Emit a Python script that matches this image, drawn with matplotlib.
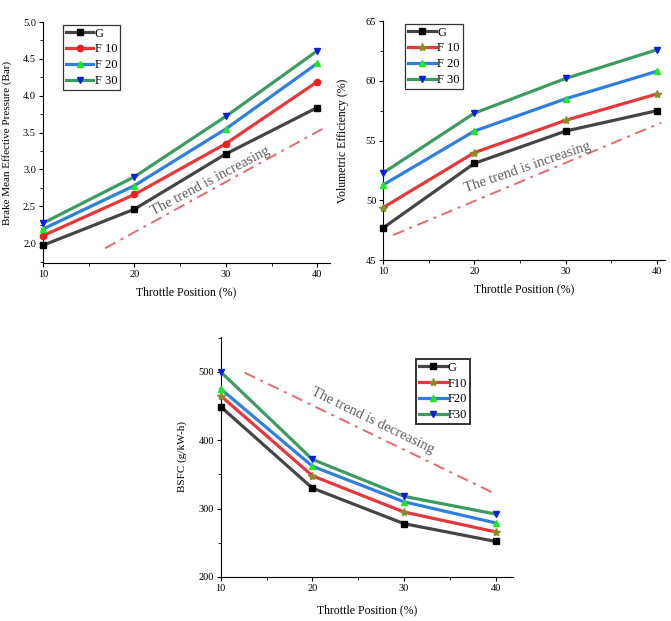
import matplotlib
matplotlib.use("Agg")
import matplotlib.pyplot as plt
from matplotlib.ticker import MultipleLocator

plt.rcParams['font.family'] = ['Liberation Serif', 'DejaVu Serif']

throttle = [10, 20, 30, 40]

# Brake mean effective pressure (bar)
bmep = {
    'G':   [1.97, 2.46, 3.21, 3.84],
    'F10': [2.10, 2.66, 3.35, 4.19],
    'F20': [2.19, 2.78, 3.55, 4.44],
    'F30': [2.27, 2.90, 3.72, 4.61],
}
# Volumetric efficiency (%)
vol_eff = {
    'G':   [47.7, 53.1, 55.8, 57.5],
    'F10': [49.4, 54.0, 56.7, 58.9],
    'F20': [51.3, 55.8, 58.5, 60.8],
    'F30': [52.3, 57.3, 60.2, 62.6],
}
# BSFC (g/kW-h)
bsfc = {
    'G':   [449, 330, 278, 252],
    'F10': [465, 348, 295, 266],
    'F20': [475, 362, 310, 279],
    'F30': [500, 372, 318, 292],
}

# trend guide lines (start/end)
trend1 = ([16.8, 40.7], [1.93, 3.56])
trend2 = ([11.1, 40.5], [47.1, 56.5])
trend3 = ([12.6, 39.6], [499, 324])

line_col = {'G': '#454545', 'F10': '#e8373a', 'F20': '#2f7fe0', 'F30': '#3d9b62'}
mark = {'G': 's', 'F10': 'o', 'F20': '^', 'F30': 'v'}
mark_col = {'G': '#000000', 'F10': '#e8201f', 'F20': '#1ee81e', 'F30': '#0a1ee0'}


def draw(ax, data, labels, f10_star=False):
    for key, lab in zip(data, labels):
        m = mark[key]
        mc = mark_col[key]
        ms = 4.5
        if key == 'F10' and f10_star:
            m, mc, ms = '*', '#8c8a2a', 6
        ax.plot(throttle, data[key], color=line_col[key], lw=2.3,
                marker=m, ms=ms, mfc=mc, mec=mc, label=lab, clip_on=False, zorder=3)
    for s in ['top', 'right']:
        ax.spines[s].set_visible(False)
    ax.xaxis.set_major_locator(MultipleLocator(10))
    ax.xaxis.set_minor_locator(MultipleLocator(5))
    ax.tick_params(labelsize=7.5, length=3, width=0.8, pad=2)
    ax.tick_params(which='minor', length=2, width=0.6)


def legend(ax, anchor, lw):
    lg = ax.legend(loc='upper left', bbox_to_anchor=anchor, fontsize=9, frameon=True,
                   fancybox=False, edgecolor='black', handlelength=2.2, borderpad=0.25,
                   labelspacing=0.3, handletextpad=0.1, borderaxespad=0.2)
    lg.get_frame().set_linewidth(lw)


fig = plt.figure(figsize=(6.71, 6.21), dpi=100)

ax1 = fig.add_axes([0.064, 0.5765, 0.428, 0.388])
draw(ax1, bmep, ['G', 'F 10', 'F 20', 'F 30'])
ax1.set_xlim(10, 41.4)
ax1.set_ylim(1.73, 5.0)
ax1.yaxis.set_major_locator(MultipleLocator(0.5))
ax1.yaxis.set_minor_locator(MultipleLocator(0.25))
ax1.yaxis.set_major_formatter('{x:.1f}')
ax1.plot(*trend1, color='#e46a72', lw=1.4, dashes=[6, 3, 1.5, 3])
ax1.text(28.3, 2.84, 'The trend is increasing', rotation=28, ha='center', va='center',
         fontsize=10.5, color='#606060')
ax1.set_xlabel('Throttle Position (%)', fontsize=8.5, labelpad=5)
ax1.set_ylabel('Brake Mean Effective Pressure (Bar)', fontsize=8, labelpad=8)
legend(ax1, (0.06, 1.0), 0.9)

ax2 = fig.add_axes([0.571, 0.581, 0.42, 0.385])
draw(ax2, vol_eff, ['G', 'F 10', 'F 20', 'F 30'], f10_star=True)
ax2.set_xlim(10, 40.9)
ax2.set_ylim(45, 65)
ax2.yaxis.set_major_locator(MultipleLocator(5))
ax2.yaxis.set_minor_locator(MultipleLocator(2.5))
ax2.plot(*trend2, color='#e46a72', lw=1.4, dashes=[6, 3, 1.5, 3])
ax2.text(25.8, 52.8, 'The trend is increasing', rotation=19, ha='center', va='center',
         fontsize=10.5, color='#606060')
ax2.set_xlabel('Throttle Position (%)', fontsize=8.5, labelpad=5)
ax2.set_ylabel('Volumetric Efficiency (%)', fontsize=8.5, labelpad=12)
legend(ax2, (0.07, 1.0), 0.9)

ax3 = fig.add_axes([0.329, 0.0709, 0.4355, 0.3864])
draw(ax3, bsfc, ['G', 'F10', 'F20', 'F30'], f10_star=True)
ax3.set_xlim(10, 41.9)
ax3.set_ylim(200, 551)
ax3.yaxis.set_major_locator(MultipleLocator(100))
ax3.yaxis.set_minor_locator(MultipleLocator(50))
ax3.plot(*trend3, color='#e46a72', lw=1.4, dashes=[6, 3, 1.5, 3])
ax3.text(26.6, 428, 'The trend is decreasing', rotation=-26, ha='center', va='center',
         fontsize=10.5, color='#606060')
ax3.set_xlabel('Throttle Position (%)', fontsize=8.5, labelpad=8)
ax3.set_ylabel('BSFC (g/kW-h)', fontsize=8, labelpad=8)
legend(ax3, (0.66, 0.92), 1.4)

fig.savefig('out.png', dpi=100)
